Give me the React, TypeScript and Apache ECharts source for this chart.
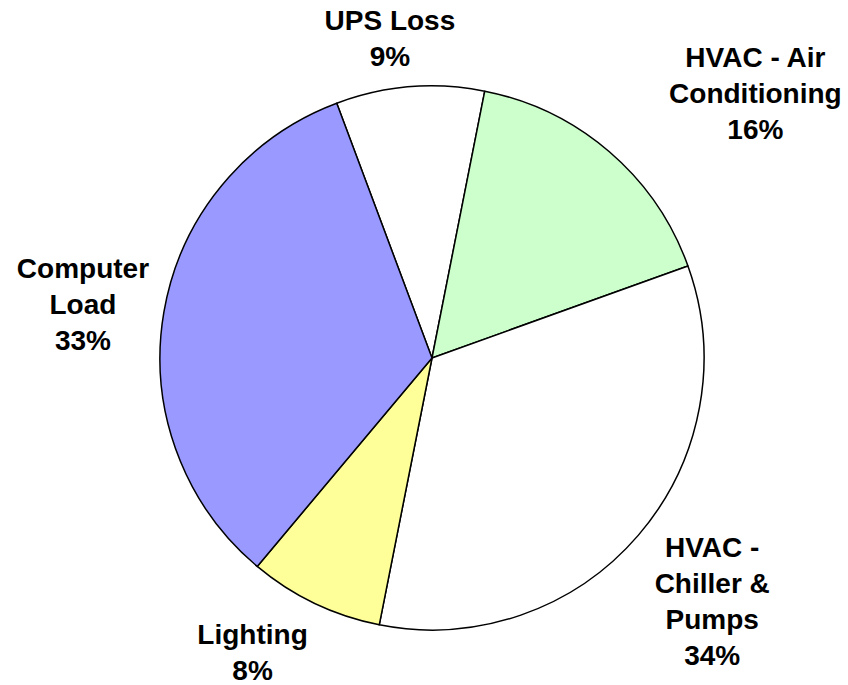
import React, { useEffect, useRef } from "react";
import * as echarts from "echarts";

const categories = [
  "UPS Loss",
  "HVAC - Air\nConditioning",
  "HVAC -\nChiller &\nPumps",
  "Lighting",
  "Computer\nLoad",
];
const values = [8.8, 16.4, 33.6, 8.0, 33.2];
const colors = ["#FFFFFF", "#CCFFCC", "#FFFFFF", "#FFFF99", "#9999FF"];
// label offsets from slice outer edge (style)
const labelOffsets = [
  [-20, -48],
  [146, -58],
  [74, 66],
  [-62, 49],
  [-81, -7],
];

const CX = 432;
const CY = 358;
const R = 272;
const START = 110.5;

export default function App() {
  const ref = useRef<HTMLDivElement>(null);
  useEffect(() => {
    document.body.style.margin = "0";
    const chart = echarts.init(ref.current!, null, { renderer: "svg" });
    const total = values.reduce((a, b) => a + b, 0);
    const startFromTop = 90 - START;
    const mids: number[] = [];
    let acc = 0;
    values.forEach((v) => {
      mids.push(startFromTop + ((acc + v / 2) / total) * 360);
      acc += v;
    });
    chart.setOption({
      animation: false,
      backgroundColor: "#FFFFFF",
      series: [
        {
          type: "pie",
          center: [CX, CY],
          radius: [0, R],
          startAngle: START,
          clockwise: true,
          avoidLabelOverlap: false,
          data: categories.map((name, i) => ({
            name,
            value: values[i],
            itemStyle: { color: colors[i] },
          })),
          itemStyle: { borderColor: "#000000", borderWidth: 1.5 },
          emphasis: { disabled: true },
          label: {
            show: true,
            position: "outside",
            formatter: (p: any) => `${p.name}\n${Math.round(p.value)}%`,
            fontFamily: "Liberation Sans, Arial, sans-serif",
            fontWeight: "bold",
            fontSize: 28,
            lineHeight: 36,
            color: "#000000",
            align: "center",
          },
          labelLine: { show: false },
          labelLayout: (params: any) => {
            const i = params.dataIndex;
            const a = (mids[i] * Math.PI) / 180;
            return {
              x: CX + R * Math.sin(a) + labelOffsets[i][0],
              y: CY - R * Math.cos(a) + labelOffsets[i][1],
              align: "center",
              verticalAlign: "middle",
            };
          },
        },
      ],
    });
    return () => chart.dispose();
  }, []);
  return (
    <div
      ref={ref}
      style={{ position: "fixed", left: 0, top: 0, width: 848, height: 685 }}
    />
  );
}
